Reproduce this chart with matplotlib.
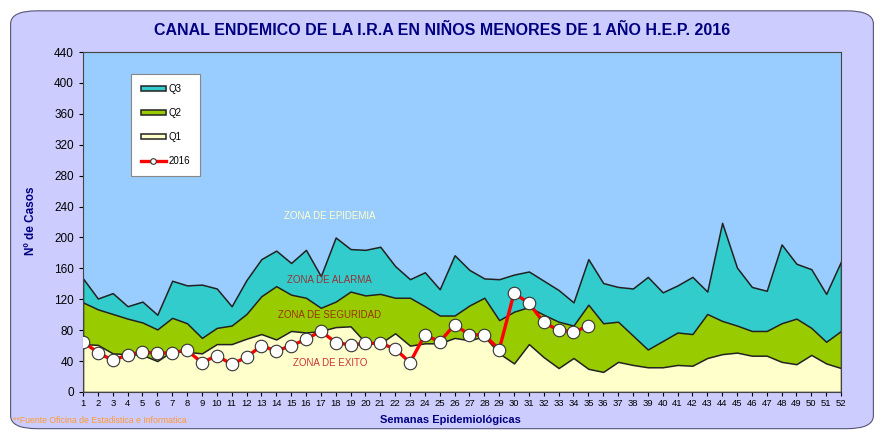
import numpy as np
import matplotlib.pyplot as plt
from matplotlib.patches import FancyBboxPatch

plt.rcParams['font.family'] = ['Liberation Sans', 'DejaVu Sans']

# semanas epidemiologicas
semanas = list(range(1, 53))

# cuartiles del canal endemico
q3 = [147, 121, 128, 111, 117, 100, 144, 138, 139, 134, 111, 145, 172, 183, 167, 184, 150, 200,
      185, 184, 188, 163, 146, 155, 133, 177, 158, 147, 146, 152, 156, 144, 132, 116, 172, 141,
      136, 134, 149, 129, 138, 149, 130, 219, 161, 136, 131, 191, 166, 159, 127, 169]
q2 = [116, 107, 101, 95, 90, 81, 96, 89, 70, 83, 86, 101, 124, 137, 126, 122, 109, 117,
      130, 125, 127, 122, 122, 111, 99, 99, 112, 122, 93, 104, 110, 100, 91, 86, 113, 89,
      91, 73, 55, 66, 77, 75, 101, 92, 86, 79, 79, 89, 95, 83, 65, 79]
q1 = [62, 61, 50, 49, 48, 40, 53, 52, 50, 62, 62, 69, 75, 68, 79, 77, 79, 84,
      85, 64, 63, 76, 60, 63, 63, 70, 67, 72, 50, 37, 62, 45, 31, 44, 30, 26,
      39, 35, 32, 32, 35, 34, 44, 49, 51, 47, 47, 39, 36, 48, 37, 31]

# casos 2016 (hasta semana 35)
semanas_2016 = list(range(1, 36))
casos_2016 = [65, 51, 41, 48, 52, 50, 51, 54, 38, 47, 36, 45, 60, 53, 60, 68, 79, 64,
              61, 63, 63, 56, 38, 74, 65, 87, 74, 74, 55, 128, 115, 90, 80, 78, 85]

navy = '#000080'

fig = plt.figure(figsize=(8.84, 4.33), dpi=100)
fig.patch.set_facecolor('white')
fondo = FancyBboxPatch((0.012, 0.01), 0.976, 0.965, boxstyle='round,pad=0,rounding_size=0.03',
                       transform=fig.transFigure, facecolor='#CCCCFF', edgecolor='#555577',
                       linewidth=0.8, zorder=-10)
fig.patches.append(fondo)

ax = fig.add_axes([0.0939, 0.0947, 0.8575, 0.785])
ax.set_facecolor('#99CCFF')

ax.fill_between(semanas, 0, q3, facecolor='#33CCCC', edgecolor='#222222', linewidth=1.1, label='Q3')
ax.fill_between(semanas, 0, q2, facecolor='#99CC00', edgecolor='#222222', linewidth=1.1, label='Q2')
ax.fill_between(semanas, 0, q1, facecolor='#FFFFCC', edgecolor='#222222', linewidth=1.1, label='Q1')
ax.plot(semanas_2016, casos_2016, color='red', linewidth=2.4, marker='o', markersize=9,
        markerfacecolor='white', markeredgecolor='#333333', markeredgewidth=0.8, label='2016', zorder=5)

ax.set_xlim(1, 52)
ax.set_ylim(0, 440)
ax.set_xticks(semanas)
ax.set_xticklabels([str(s) for s in semanas], fontsize=6.8)
ax.set_yticks(np.arange(0, 441, 40))
ax.tick_params(axis='y', labelsize=8.5, length=3)
ax.tick_params(axis='x', length=3, pad=2)
for s in ax.spines.values():
    s.set_color('#444444')

# zonas
ax.text(17.6, 228, 'ZONA DE EPIDEMIA', fontsize=7, color='#FFFFCC', ha='center', va='center')
ax.text(17.6, 145, 'ZONA DE ALARMA', fontsize=7, color='#993333', ha='center', va='center')
ax.text(17.6, 100, 'ZONA DE SEGURIDAD', fontsize=7, color='#993300', ha='center', va='center')
ax.text(17.6, 38, 'ZONA DE EXITO', fontsize=7, color='#CC3333', ha='center', va='center')

leg = ax.legend(loc='upper left', bbox_to_anchor=(0.057, 0.95), fontsize=7, frameon=True,
                fancybox=False, edgecolor='#888888', facecolor='white', framealpha=1,
                labelspacing=1.45, handlelength=2.6, borderpad=1.0, handleheight=0.4,
                handletextpad=0.3, markerscale=0.45)
leg.get_frame().set_linewidth(0.8)

fig.text(0.5, 0.93, 'CANAL ENDEMICO DE LA I.R.A EN NIÑOS MENORES DE 1 AÑO H.E.P. 2016',
         ha='center', va='center', fontsize=11.5, fontweight='bold', color=navy)
fig.text(0.035, 0.49, 'Nº de Casos', rotation=90, ha='center', va='center',
         fontsize=8.5, fontweight='bold', color=navy)
fig.text(0.51, 0.03, 'Semanas Epidemiológicas', ha='center', va='center',
         fontsize=8, fontweight='bold', color=navy)
fig.text(0.015, 0.03, '**Fuente Oficina de Estadistica e Informatica', ha='left', va='center',
         fontsize=6.3, color='#FF9933')

fig.savefig('out.png', dpi=100)
